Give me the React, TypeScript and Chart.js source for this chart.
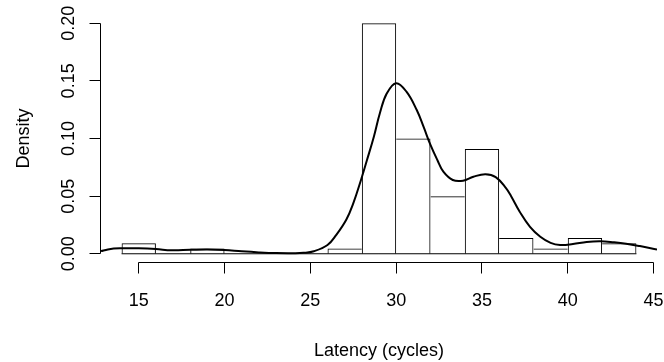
import { useEffect, useRef } from 'react';
import { Chart, registerables } from 'chart.js';

Chart.register(...registerables);

// Histogram bins (Latency, cycles) and density heights
const binEdges = [14, 16, 18, 20, 22, 24, 26, 28, 30, 32, 34, 36, 38, 40, 42, 44];
const densities = [0.0091, 0, 0.0045, 0, 0, 0, 0.0045, 0.2, 0.1, 0.05, 0.0909, 0.0136, 0.0045, 0.0136, 0.0091];

// Kernel density curve
const curveX = [12.8, 13.2, 13.9, 15, 16, 16.9, 18, 19, 20, 21, 22, 23, 24, 24.6, 25.2, 26, 26.5, 27.1, 27.5, 27.95, 28.3, 28.7, 29.05, 29.45, 30, 30.6, 31.2, 31.6, 32, 32.4, 32.75, 33.3, 33.9, 34.5, 35.2, 35.8, 36.4, 36.7, 37.2, 37.8, 38.4, 39, 39.55, 40.3, 41.1, 41.9, 42.7, 43.4, 44.2, 45.2];
const curveY = [0.0023, 0.0038, 0.0047, 0.0047, 0.0041, 0.003, 0.0034, 0.0037, 0.0032, 0.0021, 0.0012, 0.0006, 0.0005, 0.0008, 0.0022, 0.0076, 0.0162, 0.0298, 0.0437, 0.064, 0.0813, 0.1016, 0.1219, 0.139, 0.148, 0.1406, 0.1247, 0.11, 0.0944, 0.0813, 0.0712, 0.064, 0.0634, 0.0668, 0.069, 0.0665, 0.057, 0.05, 0.0365, 0.0234, 0.0148, 0.0095, 0.0076, 0.0084, 0.0102, 0.0108, 0.0099, 0.0087, 0.0067, 0.0038];

const xTicks = [15, 20, 25, 30, 35, 40, 45];
const yTicks = [0, 0.05, 0.1, 0.15, 0.2];
const yTickLabels = ['0.00', '0.05', '0.10', '0.15', '0.20'];
const xTitle = 'Latency (cycles)';
const yTitle = 'Density';

const X_MIN = 12.8;
const X_MAX = 45.2;
const Y_MIN = -0.008;
const Y_MAX = 0.208;

const FONT = '18px "Liberation Sans", Arial, Helvetica, sans-serif';
const TICK = 11;

export default function App() {
  const ref = useRef<HTMLCanvasElement>(null);

  useEffect(() => {
    const canvas = ref.current;
    if (!canvas) return;

    const barData = densities.map((d, i) => ({ x: (binEdges[i] + binEdges[i + 1]) / 2, y: d }));
    const curveData = curveX.map((v, i) => ({ x: v, y: curveY[i] }));
    const baseData = [
      { x: binEdges[0], y: 0 },
      { x: binEdges[binEdges.length - 1], y: 0 },
    ];

    const axesPlugin = {
      id: 'rAxes',
      beforeDraw(chart: any) {
        const c = chart.ctx;
        c.save();
        c.fillStyle = '#ffffff';
        c.fillRect(0, 0, chart.width, chart.height);
        c.restore();
      },
      afterDraw(chart: any) {
        const { ctx, chartArea } = chart;
        const xs = chart.scales.x;
        const ys = chart.scales.y;
        ctx.save();
        ctx.strokeStyle = '#000';
        ctx.lineWidth = 1;
        const left = Math.round(chartArea.left) - 0.5;
        const bottom = Math.round(chartArea.bottom) - 0.5;

        // y axis
        ctx.beginPath();
        const yp = (v: number) => Math.floor(ys.getPixelForValue(v)) + 0.5;
        ctx.moveTo(left, yp(yTicks[0]));
        ctx.lineTo(left, yp(yTicks[yTicks.length - 1]));
        yTicks.forEach((v) => {
          ctx.moveTo(left, yp(v));
          ctx.lineTo(left - TICK, yp(v));
        });
        ctx.stroke();

        // x axis
        const xp = (v: number) => Math.floor(xs.getPixelForValue(v)) + 0.5;
        ctx.beginPath();
        ctx.moveTo(xp(xTicks[0]), bottom);
        ctx.lineTo(xp(xTicks[xTicks.length - 1]), bottom);
        xTicks.forEach((v) => {
          ctx.moveTo(xp(v), bottom);
          ctx.lineTo(xp(v), bottom + TICK);
        });
        ctx.stroke();

        ctx.fillStyle = '#000';
        ctx.font = FONT;
        ctx.textBaseline = 'alphabetic';
        ctx.textAlign = 'center';
        xTicks.forEach((v) => {
          ctx.fillText(String(v), xs.getPixelForValue(v), 306);
        });
        ctx.fillText(xTitle, (chartArea.left + chartArea.right) / 2, 355.5);

        yTicks.forEach((v, i) => {
          ctx.save();
          ctx.translate(74, ys.getPixelForValue(v));
          ctx.rotate(-Math.PI / 2);
          ctx.fillText(yTickLabels[i], 0, 0);
          ctx.restore();
        });
        ctx.save();
        ctx.translate(28.5, (chartArea.top + chartArea.bottom) / 2);
        ctx.rotate(-Math.PI / 2);
        ctx.fillText(yTitle, 0, 0);
        ctx.restore();

        ctx.restore();
      },
    };

    const chart = new Chart(canvas, {
      type: 'bar',
      data: {
        datasets: [
          {
            type: 'line',
            data: curveData,
            borderColor: '#000',
            borderWidth: 2,
            pointRadius: 0,
            fill: false,
            tension: 0.4,
            order: 0,
          } as any,
          {
            type: 'line',
            data: baseData,
            borderColor: '#000',
            borderWidth: 1,
            pointRadius: 0,
            fill: false,
            order: 1,
          } as any,
          {
            type: 'bar',
            data: barData,
            backgroundColor: 'rgba(0,0,0,0)',
            borderColor: '#000',
            borderSkipped: false,
            inflateAmount: 0,
            barPercentage: 1,
            categoryPercentage: 1,
            borderWidth: (c: any) => {
              const i = c.dataIndex;
              const h = densities;
              return {
                top: 1,
                bottom: 0,
                left: i === 0 || h[i - 1] < h[i] ? 1 : 0,
                right: i === h.length - 1 || h[i + 1] <= h[i] ? 1 : 0,
              };
            },
            order: 2,
          } as any,
        ],
      },
      options: {
        responsive: false,
        animation: false,
        devicePixelRatio: 1,
        layout: { padding: { left: 101, right: 7, top: 14, bottom: 99 } },
        plugins: {
          legend: { display: false },
          tooltip: { enabled: false },
        },
        scales: {
          x: {
            type: 'linear',
            min: X_MIN,
            max: X_MAX,
            offset: false,
            display: false,
            afterBuildTicks: (s: any) => {
              s.ticks = xTicks.map((v) => ({ value: v }));
            },
          },
          y: {
            type: 'linear',
            min: Y_MIN,
            max: Y_MAX,
            display: false,
          },
        },
      } as any,
      plugins: [axesPlugin],
    });

    return () => chart.destroy();
  }, []);

  return (
    <div style={{ position: 'absolute', left: 0, top: 0, width: 664, height: 362, background: '#fff' }}>
      <canvas ref={ref} width={664} height={362} style={{ display: 'block', width: 664, height: 362 }} />
    </div>
  );
}
